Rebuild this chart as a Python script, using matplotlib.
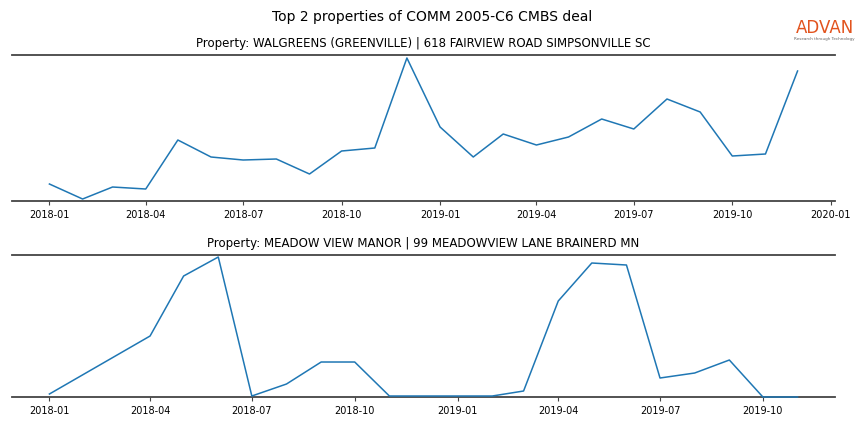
import numpy as np
import pandas as pd
import matplotlib
matplotlib.use("Agg")
import matplotlib.pyplot as plt
import matplotlib.dates as mdates

# Property 1: WALGREENS (GREENVILLE)
dates1 = pd.date_range("2018-01-01", "2019-12-01", freq="MS")
visits1 = [17, 2, 14, 12, 61, 44, 41, 42, 27, 50, 53, 143,
           74, 44, 67, 56, 64, 82, 72, 102, 89, 45, 47, 130]

# Property 2: MEADOW VIEW MANOR (Feb/Mar 2018 missing)
dates2 = pd.to_datetime(["2018-01-01", "2018-04-01", "2018-05-01", "2018-06-01",
                         "2018-07-01", "2018-08-01", "2018-09-01", "2018-10-01",
                         "2018-11-01", "2018-12-01", "2019-01-01", "2019-02-01",
                         "2019-03-01", "2019-04-01", "2019-05-01", "2019-06-01",
                         "2019-07-01", "2019-08-01", "2019-09-01", "2019-10-01",
                         "2019-11-01"])
visits2 = [3, 61, 121, 140, 1, 13, 35, 35, 1, 1, 1, 1,
           6, 96, 134, 132, 19, 24, 37, 0, 0]

titles = ["Property: WALGREENS (GREENVILLE) | 618 FAIRVIEW ROAD SIMPSONVILLE SC",
          "Property: MEADOW VIEW MANOR | 99 MEADOWVIEW LANE BRAINERD MN"]

fig = plt.figure(figsize=(8.64, 4.32), dpi=100)
ax1 = fig.add_axes([0.0139, 0.5347, 0.9525, 0.338])
ax2 = fig.add_axes([0.0139, 0.081, 0.9525, 0.3287])

series = [(dates1, visits1, 146), (dates2, visits2, 142)]
for ax, (d, v, top), t in zip([ax1, ax2], series, titles):
    ax.plot(d, v, color="#1f77b4", linewidth=1.1, zorder=3, clip_on=False)
    ax.set_ylim(0, top)
    ax.set_title(t, fontsize=8.5, pad=6)
    ax.xaxis.set_major_locator(mdates.MonthLocator(bymonth=[1, 4, 7, 10]))
    ax.xaxis.set_major_formatter(mdates.DateFormatter("%Y-%m"))
    ax.tick_params(axis="x", labelsize=7, length=3, color="#444444")
    ax.set_yticks([])
    for s in ["left", "right"]:
        ax.spines[s].set_visible(False)
    for s in ["top", "bottom"]:
        ax.spines[s].set_color("#444444")
        ax.spines[s].set_linewidth(1.3)

fig.suptitle("Top 2 properties of COMM 2005-C6 CMBS deal", fontsize=10, y=0.977)

# logo
fig.text(0.9545, 0.935, "ADVAN", color="#e2531d", fontsize=12, ha="center",
         va="center", fontfamily="DejaVu Sans")
fig.text(0.9545, 0.91, "Research through Technology", color="#666666",
         fontsize=3, ha="center", va="center")

fig.savefig("out.png", dpi=100)
